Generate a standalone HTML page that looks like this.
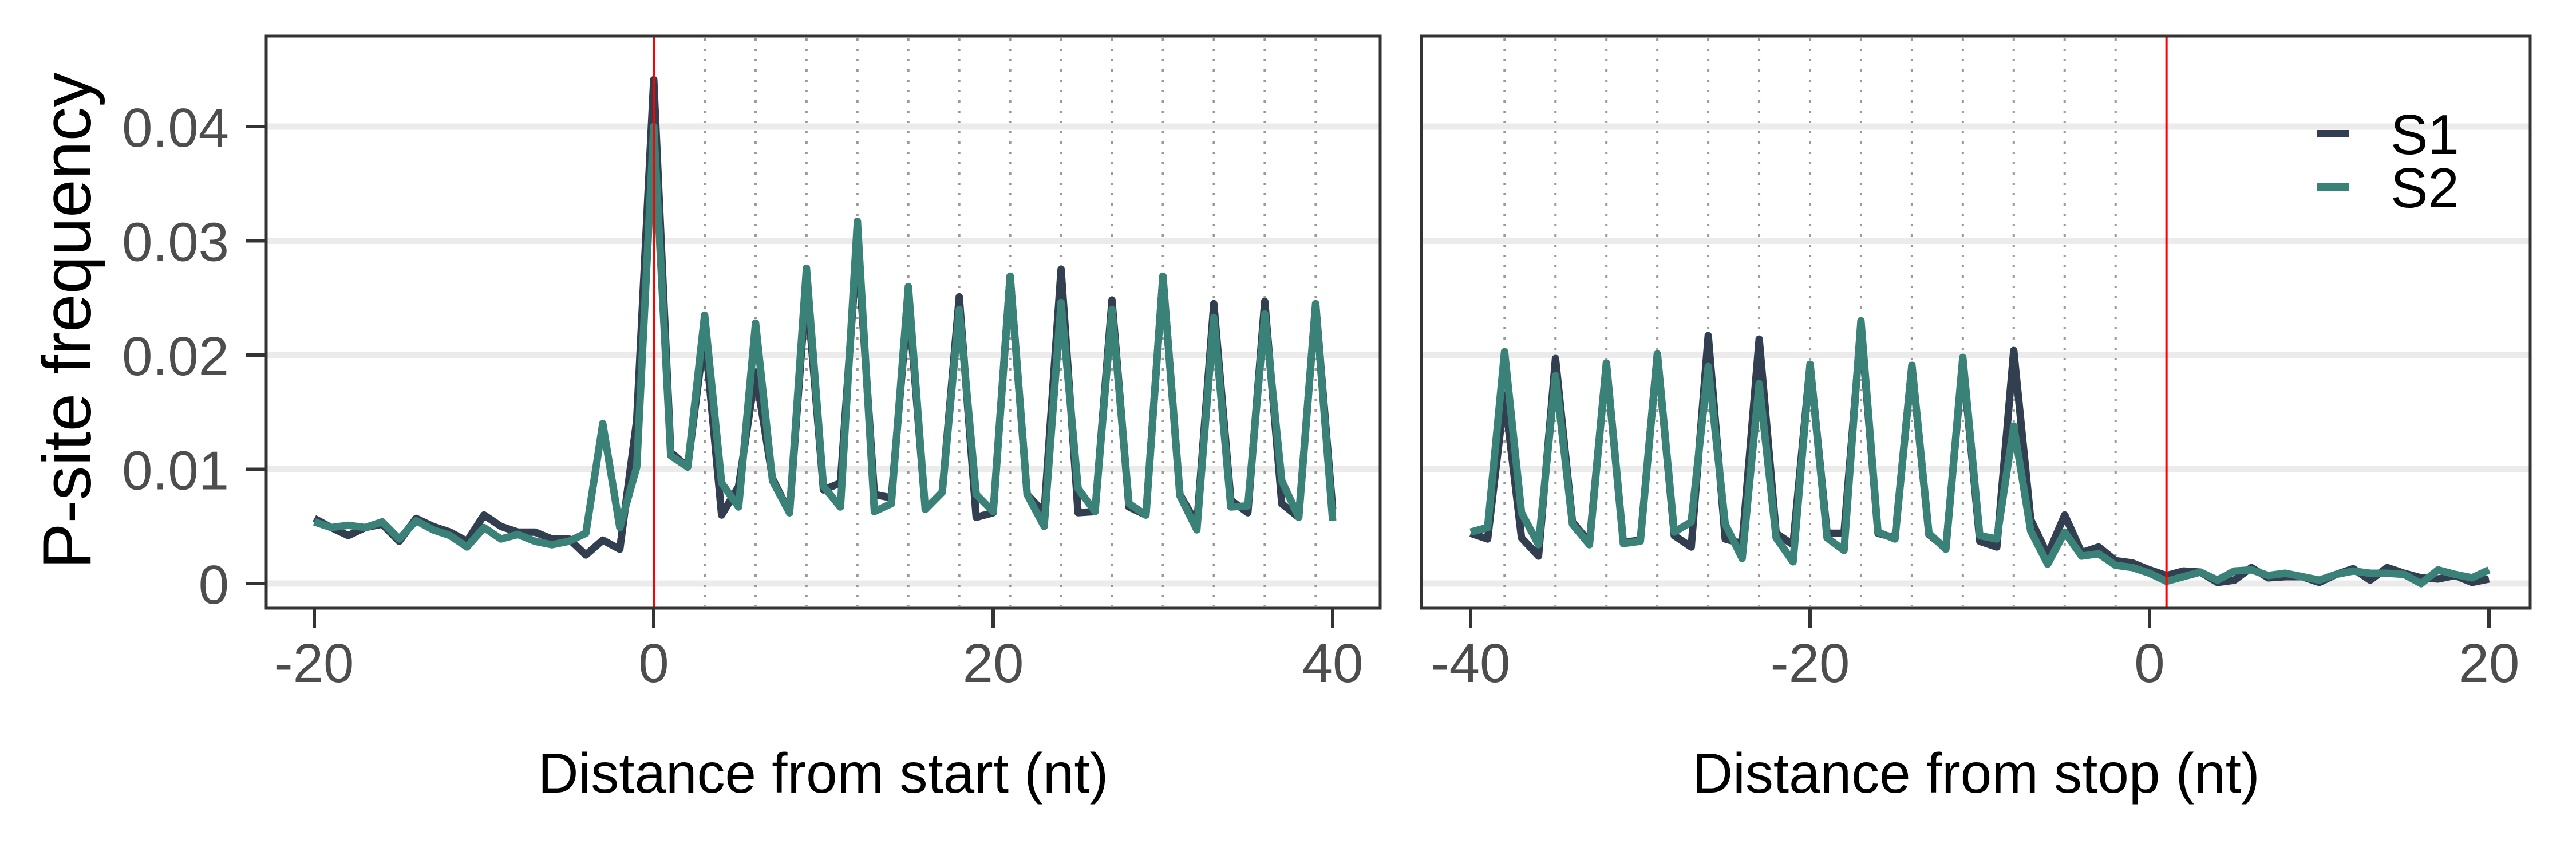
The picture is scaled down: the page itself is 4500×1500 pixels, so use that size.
<!DOCTYPE html>
<html><head><meta charset="utf-8"><style>
html,body{margin:0;padding:0;background:#fff;}
svg{display:block;font-family:"Liberation Sans",Arial,sans-serif;}
</style></head><body>
<svg id="chart" width="4500" height="1500" viewBox="0 0 4500 1500" xmlns="http://www.w3.org/2000/svg">
<rect x="0" y="0" width="4500" height="1500" fill="#fff"/>
<g id="gl"></g>
<g id="gr"></g>
<text transform="translate(158,560) rotate(-90)" text-anchor="middle" font-size="120" fill="#000">P-site frequency</text>
<text x="1438" y="1384" text-anchor="middle" font-size="98" fill="#000">Distance from start (nt)</text>
<text x="3452" y="1384" text-anchor="middle" font-size="98" fill="#000">Distance from stop (nt)</text>
<g>
<rect x="4047" y="227" width="57" height="13" fill="#323f50"/>
<text x="4176" y="269" font-size="98" fill="#000">S1</text>
<rect x="4047" y="320" width="57" height="13" fill="#3a8278"/>
<text x="4176" y="362" font-size="98" fill="#000">S2</text>
</g>
</svg>
<script>
const leftPositions = [-20,-19,-18,-17,-16,-15,-14,-13,-12,-11,-10,-9,-8,-7,-6,-5,-4,-3,-2,-1,0,1,2,3,4,5,6,7,8,9,10,11,12,13,14,15,16,17,18,19,20,21,22,23,24,25,26,27,28,29,30,31,32,33,34,35,36,37,38,39,40];
const leftS1 = [.0057,.0049,.0042,.0049,.0052,.0037,.0057,.0050,.0045,.0037,.0060,.0050,.0045,.0045,.0039,.0039,.0025,.0038,.0030,.0143,.0441,.0115,.0102,.0220,.0060,.0085,.0185,.0092,.0062,.0262,.0082,.0088,.0300,.0078,.0075,.0250,.0065,.0080,.0251,.0058,.0062,.0269,.0078,.0062,.0275,.0062,.0063,.0248,.0067,.0060,.0269,.0078,.0052,.0245,.0073,.0062,.0247,.0070,.0058,.0245,.0065];
const leftS2 = [.0054,.0049,.0051,.0049,.0054,.0039,.0055,.0047,.0042,.0032,.0049,.0039,.0043,.0037,.0034,.0037,.0044,.0140,.0049,.0102,.0400,.0112,.0102,.0235,.0088,.0067,.0228,.0090,.0062,.0276,.0085,.0067,.0317,.0063,.0070,.0260,.0065,.0080,.0240,.0078,.0063,.0269,.0078,.0050,.0246,.0083,.0063,.0240,.0070,.0060,.0269,.0077,.0047,.0233,.0067,.0068,.0236,.0090,.0058,.0245,.0055];
const rightPositions = [-40,-39,-38,-37,-36,-35,-34,-33,-32,-31,-30,-29,-28,-27,-26,-25,-24,-23,-22,-21,-20,-19,-18,-17,-16,-15,-14,-13,-12,-11,-10,-9,-8,-7,-6,-5,-4,-3,-2,-1,0,1,2,3,4,5,6,7,8,9,10,11,12,13,14,15,16,17,18,19,20];
const rightS1 = [.0044,.0039,.0165,.0040,.0024,.0197,.0054,.0036,.0193,.0036,.0038,.0201,.0042,.0032,.0217,.0039,.0035,.0214,.0044,.0034,.0192,.0044,.0044,.0225,.0044,.0040,.0191,.0043,.0031,.0195,.0037,.0032,.0204,.0056,.0025,.0060,.0027,.0032,.0020,.0018,.0012,.0007,.0011,.0010,.0001,.0003,.0014,.0005,.0006,.0006,.0001,.0008,.0013,.0003,.0014,.0009,.0005,.0004,.0007,.0001,.0004];
const rightS2 = [.0045,.0049,.0203,.0062,.0034,.0182,.0052,.0034,.0193,.0035,.0037,.0201,.0045,.0054,.0190,.0052,.0022,.0175,.0040,.0019,.0192,.0040,.0029,.0230,.0045,.0039,.0191,.0044,.0030,.0198,.0042,.0039,.0138,.0046,.0017,.0045,.0024,.0026,.0016,.0014,.0009,.0002,.0006,.0010,.0003,.0011,.0012,.0007,.0009,.0006,.0003,.0008,.0011,.0009,.0009,.0008,.0000,.0012,.0008,.0005,.0012];
const yTicks = [0,0.01,0.02,0.03,0.04];
const yTickLabels = ["0","0.01","0.02","0.03","0.04"];
const leftXTicks = [-20,0,20,40];
const rightXTicks = [-40,-20,0,20];
const leftCodonLines = [3,6,9,12,15,18,21,24,27,30,33,36,39];
const rightCodonLines = [-38,-35,-32,-29,-26,-23,-20,-17,-14,-11,-8,-5,-2];
const leftRefLine = 0, rightRefLine = 1;

const NS = "http://www.w3.org/2000/svg";
const PT = 63, PB = 1062;
const yScale = v => 1019 - v * 19950;
const xLeft = u => 549 + (u + 20) * 29.65;
const xRight = u => 2569 + (u + 40) * 29.65;
function mk(tag, attrs, parent) {
  const el = document.createElementNS(NS, tag);
  for (const k in attrs) el.setAttribute(k, attrs[k]);
  parent.appendChild(el);
  return el;
}
function panel(g, x0, x1, xs, xsTicks, codon, ref, pos, s1, s2, showY, prefix) {
  for (let i = 0; i < yTicks.length; i++) {
    const gl = mk('line', {x1: x0, x2: x1, y1: yScale(yTicks[i]), y2: yScale(yTicks[i]), stroke: '#ebebeb', 'stroke-width': 11}, g);
    
    
  }
  for (const c of codon) {
    const l = mk('line', {x1: xs(c), x2: xs(c), y1: PT + 4, y2: PB - 4, stroke: '#999', 'stroke-width': 4, 'stroke-dasharray': '4 14'}, g);
    
    
  }
  const series = [[s1, '#323f50', 's1'], [s2, '#3a8278', 's2']];
  for (const [vals, col, nm] of series) {
    let d = '';
    vals.forEach((v, i) => { d += (i ? 'L' : 'M') + xs(pos[i]).toFixed(1) + ',' + yScale(v).toFixed(1); });
    const p = mk('path', {d: d, fill: 'none', stroke: col, 'stroke-width': 13, 'stroke-linejoin': 'round', 'stroke-linecap': 'butt'}, g);
    
    
  }
  const r = mk('line', {x1: xs(ref), x2: xs(ref), y1: PT, y2: PB, stroke: '#ff0000', 'stroke-width': 4}, g);
  
  
  const b = mk('rect', {x: x0, y: PT, width: x1 - x0, height: PB - PT, fill: 'none', stroke: '#333', 'stroke-width': 5}, g);
  
  
  for (const t of xsTicks) {
    const tk = mk('line', {x1: xs(t), x2: xs(t), y1: PB, y2: PB + 34, stroke: '#333', 'stroke-width': 6}, g);
    
    
    const tl = mk('text', {x: xs(t), y: 1191, 'text-anchor': 'middle', 'font-size': 96, fill: '#4d4d4d'}, g);
    tl.textContent = String(t);
    
    
  }
  if (showY) {
    for (let i = 0; i < yTicks.length; i++) {
      const tk = mk('line', {x1: x0 - 35, x2: x0, y1: yScale(yTicks[i]), y2: yScale(yTicks[i]), stroke: '#333', 'stroke-width': 6}, g);
      
      
      const tl = mk('text', {x: 400, y: yScale(yTicks[i]) + 35, 'text-anchor': 'end', 'font-size': 96, fill: '#4d4d4d'}, g);
      tl.textContent = yTickLabels[i];
      
      
    }
  }
}
panel(document.getElementById('gl'), 465, 2411, xLeft, leftXTicks, leftCodonLines, leftRefLine, leftPositions, leftS1, leftS2, true, 'start');
panel(document.getElementById('gr'), 2483, 4420, xRight, rightXTicks, rightCodonLines, rightRefLine, rightPositions, rightS1, rightS2, false, 'stop');
</script>
</body></html>
